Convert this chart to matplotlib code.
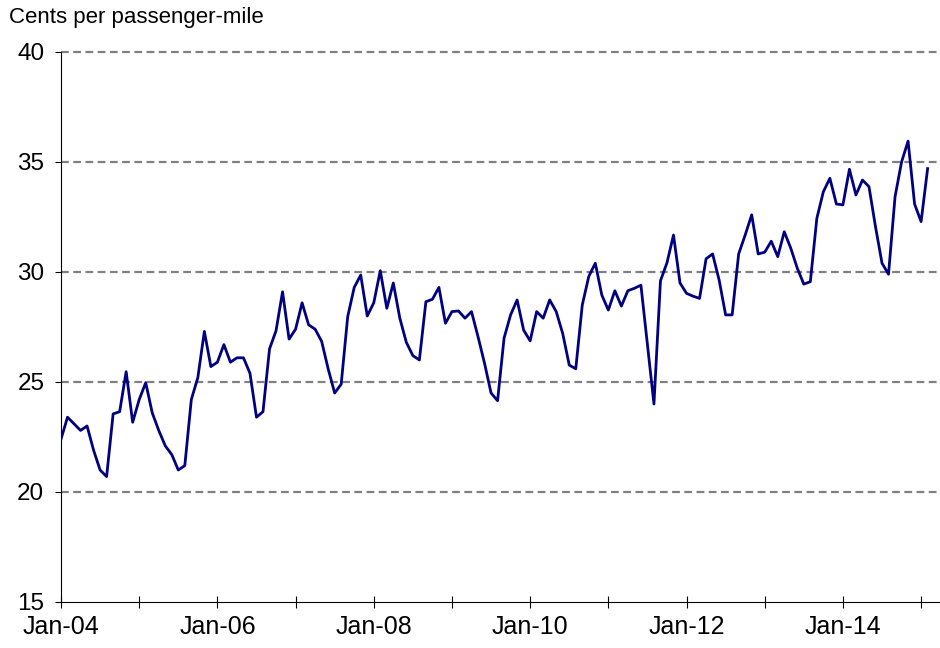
import numpy as np
import matplotlib
matplotlib.use('Agg')
import matplotlib.pyplot as plt

# Dados mensais: Jan-04 ate Feb-15 (centavos por passageiro-milha)
valores_2004 = [22.4, 23.4, 23.1, 22.8, 23.0, 21.9, 21.0, 20.7, 23.55, 23.65, 25.47, 23.17]
valores_2005 = [24.2, 24.97, 23.6, 22.8, 22.1, 21.7, 21.0, 21.2, 24.2, 25.2, 27.3, 25.7]
valores_2006 = [25.9, 26.7, 25.9, 26.1, 26.1, 25.4, 23.4, 23.65, 26.5, 27.33, 29.1, 26.95]
valores_2007 = [27.4, 28.6, 27.6, 27.4, 26.85, 25.6, 24.5, 24.9, 27.97, 29.3, 29.86, 28.0]
valores_2008 = [28.6, 30.06, 28.35, 29.5, 27.9, 26.8, 26.2, 26.0, 28.65, 28.76, 29.3, 27.67]
valores_2009 = [28.2, 28.23, 27.9, 28.2, 27.06, 25.85, 24.5, 24.15, 27.0, 28.05, 28.73, 27.36]
valores_2010 = [26.87, 28.2, 27.9, 28.73, 28.2, 27.2, 25.77, 25.6, 28.5, 29.8, 30.4, 28.95]
valores_2011 = [28.27, 29.15, 28.45, 29.15, 29.26, 29.4, 26.7, 24.0, 29.6, 30.42, 31.68, 29.5]
valores_2012 = [29.03, 28.9, 28.8, 30.6, 30.82, 29.64, 28.05, 28.05, 30.82, 31.68, 32.6, 30.82]
valores_2013 = [30.9, 31.4, 30.7, 31.83, 31.08, 30.17, 29.45, 29.56, 32.44, 33.65, 34.26, 33.09]
valores_2014 = [33.05, 34.67, 33.5, 34.18, 33.88, 32.06, 30.4, 29.9, 33.42, 35.0, 35.95, 33.09]
valores_2015 = [32.29, 34.7]

valores = (valores_2004 + valores_2005 + valores_2006 + valores_2007 + valores_2008 +
           valores_2009 + valores_2010 + valores_2011 + valores_2012 + valores_2013 +
           valores_2014 + valores_2015)

# Rotulos do eixo x (um tick por ano, rotulo a cada dois anos)
rotulos_x = ['Jan-04', '', 'Jan-06', '', 'Jan-08', '', 'Jan-10', '', 'Jan-12', '', 'Jan-14', '']
ticks_y = [15, 20, 25, 30, 35, 40]

plt.rcParams['font.family'] = ['Liberation Sans', 'DejaVu Sans']

fig = plt.figure(figsize=(9.4, 6.48), dpi=100)
ax = fig.add_axes([61 / 940, 1 - 602 / 648, 1 - 61 / 940, (602 - 52) / 648])

meses = np.arange(len(valores))

# Linhas de grade tracejadas
for y in ticks_y[1:]:
    ax.axhline(y, color='#808080', linewidth=1.6, dashes=(3.5, 2), zorder=1, clip_on=False)

ax.plot(meses, valores, color='#000080', linewidth=2.0, zorder=3)

ax.set_xlim(0, 134.9)
ax.set_ylim(15, 40)
ax.set_xticks(np.arange(0, 12 * len(rotulos_x), 12))
ax.set_xticklabels(rotulos_x, fontsize=18)
ax.set_yticks(ticks_y)
ax.set_yticklabels([str(v) for v in ticks_y], fontsize=17.5)

ax.tick_params(axis='x', direction='inout', length=8, width=0.8, pad=5)
ax.tick_params(axis='y', direction='out', length=4, width=0.8, pad=8)

for lado in ['top', 'right']:
    ax.spines[lado].set_visible(False)
ax.spines['left'].set_linewidth(0.8)
ax.spines['bottom'].set_linewidth(0.8)

fig.text(9 / 940, 1 - 18 / 648, 'Cents per passenger-mile', fontsize=16, va='center', ha='left')

plt.savefig('out.png', dpi=100)
